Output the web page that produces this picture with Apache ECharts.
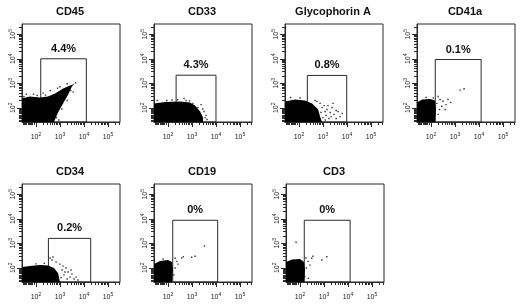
<!DOCTYPE html>
<html>
<head>
<meta charset="utf-8">
<script src="https://cdn.jsdelivr.net/npm/echarts@6/dist/echarts.min.js"></script>
<style>
  html, body { margin: 0; padding: 0; background: #fff; }
  #chart { width: 520px; height: 304px; }
</style>
</head>
<body>
<div id="chart"></div>
<script>
// panel names and gate statistics
const markers = ['CD45', 'CD33', 'Glycophorin A', 'CD41a', 'CD34', 'CD19', 'CD3']
const gatePercent = ['4.4%', '4.3%', '0.8%', '0.1%', '0.2%', '0%', '0%']
// gate rectangles, log10 units (bottom sits on the axis)
const gateXFrom = [2.2, 2.34, 2.35, 2.18, 2.52, 2.2, 2.18]
const gateXTo = [4.1, 4.0, 3.99, 4.09, 4.28, 4.07, 4.09]
const gateYTo = [4.0, 3.33, 3.32, 3.97, 3.2, 3.94, 3.94]

// axis labels 10^2 .. 10^5
const tickExponents = [2, 3, 4, 5]
const minorMantissa = [2, 3, 4, 5, 6, 7, 8, 9]
// dense ticks of the linear part below 10^2
const lowTicks = [1.46, 1.51, 1.56, 1.61, 1.66, 1.71, 1.76, 1.81, 1.86, 1.91, 1.95]

// outlines of the dense event clouds, log10 units
const cloudCD45 = [[1.42, 1.42], [1.42, 2.38], [1.75, 2.46], [2.17, 2.42], [2.5, 2.46], [2.8, 2.58], [3.13, 2.79], [3.42, 2.91], [3.59, 2.97], [3.5, 2.87], [3.34, 2.54], [3.13, 2.18], [2.92, 1.81], [2.75, 1.42]]
const cloudCD33 = [[1.42, 1.42], [1.42, 2.18], [1.88, 2.24], [2.5, 2.26], [2.92, 2.22], [3.13, 2.09], [3.34, 1.85], [3.46, 1.6], [3.46, 1.42]]
const cloudGlyA = [[1.42, 1.42], [1.42, 2.26], [1.84, 2.34], [2.25, 2.3], [2.55, 2.18], [2.8, 1.93], [2.88, 1.64], [2.96, 1.42]]
const cloudCD41a = [[1.42, 1.42], [1.42, 2.22], [1.63, 2.34], [1.96, 2.36], [2.17, 2.3], [2.21, 1.93], [2.17, 1.42]]
const cloudCD34 = [[1.42, 1.42], [1.42, 2.03], [1.75, 2.07], [2.17, 2.11], [2.5, 2.09], [2.75, 1.99], [2.92, 1.79], [3.0, 1.42]]
const cloudCD19 = [[1.42, 1.42], [1.42, 2.15], [1.67, 2.28], [2.0, 2.32], [2.17, 2.24], [2.21, 1.91], [2.17, 1.42]]
const cloudCD3 = [[1.42, 1.42], [1.42, 2.24], [1.67, 2.34], [2.0, 2.36], [2.17, 2.24], [2.21, 1.91], [2.17, 1.42]]

// single events outside the dense clouds, log10 units
const dotsCD45 = [[1.6, 2.55], [1.9, 2.55], [2.3, 2.6], [2.6, 2.7], [2.9, 2.8], [3.3, 2.98], [3.65, 3.02], [3.08, 1.95], [2.85, 1.6], [3.3, 2.3], [3.45, 2.7], [2.05, 2.5], [1.5, 2.45], [2.95, 1.5], [2.4, 2.52], [3.0, 2.86], [3.55, 2.65]]
const dotsCD33 = [[2.67, 2.38], [1.55, 2.3], [2.17, 2.32], [2.75, 2.3], [3.04, 2.18], [3.25, 2.01], [3.5, 1.85], [3.59, 1.69], [3.38, 2.13], [3.63, 1.52], [1.95, 2.3], [2.4, 2.33], [3.55, 1.6], [2.9, 2.28], [3.45, 1.95]]
const dotsGlyA = [[3.05, 2.09], [3.17, 1.93], [3.3, 1.81], [3.13, 1.69], [3.38, 2.01], [3.46, 1.73], [3.55, 1.56], [3.25, 1.56], [2.96, 2.01], [3.09, 1.85], [3.42, 2.18], [3.63, 1.85], [2.88, 2.18], [2.75, 2.26], [3.71, 1.64], [3.21, 2.09], [2.67, 2.3], [2.92, 1.81], [3.34, 1.64], [3.55, 1.89], [3.8, 1.77], [3.0, 1.6], [3.1, 1.5], [1.65, 2.42], [2.05, 2.4]]
const dotsCD41a = [[3.21, 2.72], [3.38, 2.78], [2.71, 2.34], [2.82, 2.22], [2.45, 2.06], [2.59, 1.93], [2.3, 1.73], [2.38, 2.34], [2.5, 2.27], [2.63, 2.13], [2.36, 1.93], [2.25, 2.18], [2.3, 2.46], [1.8, 2.42], [2.1, 2.4]]
const dotsCD34 = [[3.09, 1.91], [3.17, 1.71], [3.25, 1.99], [3.34, 1.83], [3.42, 1.62], [3.5, 1.75], [3.59, 1.54], [3.67, 1.62], [3.0, 2.15], [2.84, 2.24], [2.67, 2.32], [3.13, 2.07], [3.3, 1.54], [3.21, 1.83], [3.46, 1.91], [3.75, 1.5], [2.59, 2.4], [2.71, 2.44], [2.0, 2.16], [2.35, 2.18], [3.05, 1.6]]
const dotsCD19 = [[2.57, 2.4], [2.99, 2.43], [3.13, 2.47], [3.52, 2.89], [2.37, 2.26], [2.3, 1.99], [2.64, 2.45], [2.3, 2.39], [2.42, 2.15], [2.25, 1.71], [1.8, 2.36]]
const dotsCD3 = [[1.84, 3.04], [3.12, 2.45], [2.91, 2.32], [2.42, 2.11], [2.49, 2.39], [2.35, 1.57], [2.54, 2.47], [2.34, 2.26], [2.27, 1.99], [2.2, 1.65], [2.25, 2.4]]

const clouds = [cloudCD45, cloudCD33, cloudGlyA, cloudCD41a, cloudCD34, cloudCD19, cloudCD3]
const dots = [dotsCD45, dotsCD33, dotsGlyA, dotsCD41a, dotsCD34, dotsCD19, dotsCD3]

// layout
const gridLeft = [22, 154, 285, 417, 22, 154, 286]
const gridTop = [24, 24, 24, 24, 184, 184, 184]
const SIZE = 98
const X_MIN = 1.42, X_MAX = 5.5
const Y_MIN = 1.42, Y_MAX = 5.42
const FONT = '"Liberation Sans", Arial, sans-serif'
const LINE = '#2a2a2a'

const minorTicks = (min, max) => {
	const out = lowTicks.slice()
	for (let d = 2; d <= 5; d++) {
		minorMantissa.forEach((m) => {
			const v = d + Math.log10(m)
			if (v > min && v < max) out.push(v)
		})
	}
	return out
}

const labelRich = {
	b: { fontSize: 7, lineHeight: 9, verticalAlign: 'bottom', fontFamily: FONT, color: '#222' },
	s: { fontSize: 5, lineHeight: 9, verticalAlign: 'top', fontFamily: FONT, color: '#222' },
}
const expLabel = (v) => '{b|10}{s|' + Math.round(v) + '}'

const grid = [], xAxis = [], yAxis = [], series = [], title = []

markers.forEach((name, i) => {
	grid.push({
		left: gridLeft[i], top: gridTop[i], width: SIZE, height: SIZE,
		show: true, borderColor: LINE, borderWidth: 1, backgroundColor: 'transparent',
		outerBoundsMode: 'none', containLabel: false,
	})
	title.push({
		text: name,
		left: gridLeft[i] + SIZE / 2 - 1,
		top: gridTop[i] - 17.5,
		textAlign: 'center',
		padding: 0,
		textStyle: { fontFamily: FONT, fontSize: 11, fontWeight: 'bold', color: '#111' },
	})
	// major ticks + labels
	xAxis.push({
		gridIndex: i, type: 'value', min: X_MIN, max: X_MAX, position: 'bottom',
		axisLine: { show: true, lineStyle: { color: LINE, width: 1 } },
		axisTick: { show: true, customValues: tickExponents, length: 5, lineStyle: { color: LINE } },
		axisLabel: { customValues: tickExponents, formatter: expLabel, rich: labelRich, margin: 10 },
		splitLine: { show: false },
	})
	// minor ticks
	xAxis.push({
		gridIndex: i, type: 'value', min: X_MIN, max: X_MAX, position: 'bottom', offset: 0,
		axisLine: { show: false },
		axisTick: { show: true, customValues: minorTicks(X_MIN, X_MAX), length: 3, lineStyle: { color: LINE } },
		axisLabel: { show: false },
		splitLine: { show: false },
	})
	yAxis.push({
		gridIndex: i, type: 'value', min: Y_MIN, max: Y_MAX, position: 'left',
		axisLine: { show: true, lineStyle: { color: LINE, width: 1 } },
		axisTick: { show: true, customValues: tickExponents, length: 5, lineStyle: { color: LINE } },
		axisLabel: { customValues: tickExponents, formatter: expLabel, rich: labelRich, margin: 5, rotate: 90 },
		splitLine: { show: false },
	})
	yAxis.push({
		gridIndex: i, type: 'value', min: Y_MIN, max: Y_MAX, position: 'left', offset: 0,
		axisLine: { show: false },
		axisTick: { show: true, customValues: minorTicks(Y_MIN, Y_MAX), length: 3, lineStyle: { color: LINE } },
		axisLabel: { show: false },
		splitLine: { show: false },
	})

	const outline = clouds[i]
	series.push({
		type: 'custom',
		xAxisIndex: i * 2,
		yAxisIndex: i * 2,
		data: outline,
		encode: { x: 0, y: 1 },
		z: 2,
		silent: true,
		renderItem: (params, api) => {
			if (params.dataIndex !== 0) return null
			return {
				type: 'polygon',
				shape: { points: outline.map((p) => api.coord(p)) },
				style: { fill: '#000' },
			}
		},
	})
	series.push({
		type: 'scatter',
		xAxisIndex: i * 2,
		yAxisIndex: i * 2,
		data: dots[i],
		symbol: 'rect',
		symbolSize: 1.4,
		itemStyle: { color: '#000' },
		z: 3,
		silent: true,
		markArea: {
			silent: true,
			itemStyle: { color: 'rgba(0,0,0,0)', borderColor: LINE, borderWidth: 1 },
			label: {
				show: true, position: 'top', distance: 4, formatter: gatePercent[i],
				fontFamily: FONT, fontSize: 11, fontWeight: 'bold', color: '#111',
			},
			data: [[{ xAxis: gateXFrom[i], yAxis: Y_MIN }, { xAxis: gateXTo[i], yAxis: gateYTo[i] }]],
		},
	})
})

const chart = echarts.init(document.getElementById('chart'))
chart.setOption({
	animation: false,
	backgroundColor: '#fff',
	title,
	grid,
	xAxis,
	yAxis,
	series,
})
</script>
</body>
</html>
